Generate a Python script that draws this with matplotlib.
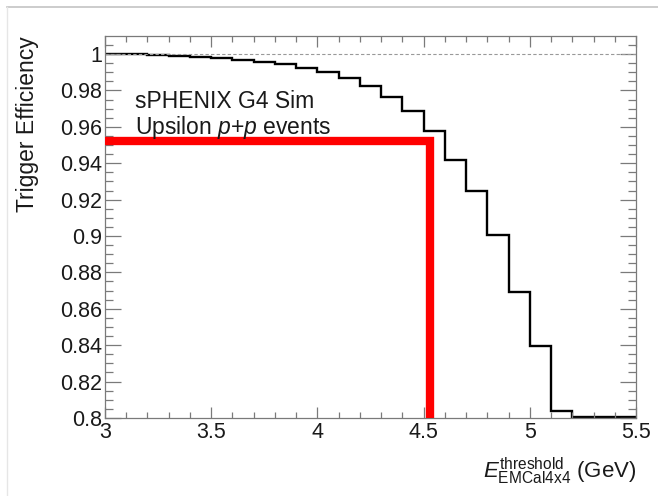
import matplotlib
matplotlib.use("Agg")
import matplotlib.pyplot as plt
from matplotlib.lines import Line2D
from matplotlib.ticker import MultipleLocator

plt.rcParams['font.family'] = ['Liberation Sans', 'DejaVu Sans']
plt.rcParams['mathtext.fontset'] = 'custom'
plt.rcParams['mathtext.rm'] = 'Liberation Sans'
plt.rcParams['mathtext.it'] = 'Liberation Sans:italic'
plt.rcParams['mathtext.bf'] = 'Liberation Sans:bold'

# Trigger efficiency vs. EMCal 4x4 threshold (bins of 0.1 GeV)
bin_edges = [3.0, 3.1, 3.2, 3.3, 3.4, 3.5, 3.6, 3.7, 3.8, 3.9, 4.0, 4.1, 4.2,
             4.3, 4.4, 4.5, 4.6, 4.7, 4.8, 4.9, 5.0, 5.1, 5.2, 5.3, 5.4, 5.5]
efficiency = [0.9999, 0.9998, 0.9995, 0.9990, 0.9985, 0.9978, 0.9968, 0.9955,
              0.9943, 0.9923, 0.9899, 0.9866, 0.9824, 0.9762, 0.9688, 0.9575,
              0.9415, 0.9245, 0.9008, 0.8691, 0.8398, 0.8040, 0.8003, 0.8003,
              0.8003]

# Chosen operating point
threshold_cut = 4.53
efficiency_at_cut = 0.952

fig = plt.figure(figsize=(6.58, 4.96), dpi=100)
ax = fig.add_axes([0.1596, 0.1573, 0.807, 0.7701])

ax.stairs(efficiency, bin_edges, color='black', linewidth=1.7, baseline=None)
ax.axhline(1.0, color='#999999', linewidth=0.8, linestyle=(0, (3, 2)))
ax.plot([bin_edges[0], threshold_cut, threshold_cut],
        [efficiency_at_cut, efficiency_at_cut, 0.8],
        color='#ff0000', linewidth=6, solid_joinstyle='miter',
        solid_capstyle='butt', zorder=3)

ax.set_xlim(3.0, 5.5)
ax.set_ylim(0.8, 1.0099)

ax.xaxis.set_major_locator(MultipleLocator(0.5))
ax.xaxis.set_minor_locator(MultipleLocator(0.1))
ax.yaxis.set_major_locator(MultipleLocator(0.02))
ax.yaxis.set_minor_locator(MultipleLocator(0.005))

def fmt(v, _):
    s = f"{v:.2f}".rstrip('0').rstrip('.')
    return s
ax.xaxis.set_major_formatter(plt.FuncFormatter(fmt))
ax.yaxis.set_major_formatter(plt.FuncFormatter(fmt))

frame_color = '#7a7a7a'
for sp in ax.spines.values():
    sp.set_color(frame_color)
    sp.set_linewidth(0.9)

ax.tick_params(axis='both', which='both', direction='in', colors=frame_color,
               labelcolor='#1a1a1a', width=0.9, top=True, right=True,
               labelsize=15.5)
ax.tick_params(axis='y', which='major', length=11.5)
ax.tick_params(axis='y', which='minor', length=5.8)
ax.tick_params(axis='x', which='major', length=7.9)
ax.tick_params(axis='x', which='minor', length=4.0)
ax.tick_params(axis='x', which='major', pad=3)
ax.tick_params(axis='y', which='major', pad=2)

ax.set_ylabel('Trigger Efficiency', fontsize=16.5, color='#1a1a1a', loc='top')
ax.yaxis.set_label_coords(-0.124, 1.0)
ax.set_xlabel(r'$E^{\mathrm{threshold}}_{\mathrm{EMCal4x4}}$ (GeV)',
              fontsize=16, color='#1a1a1a', loc='right', labelpad=9)

ax.text(3.14, 0.9703, 'sPHENIX G4 Sim', fontsize=16.5, color='#1a1a1a',
        va='baseline', ha='left')
ax.text(3.14, 0.9560, r'Upsilon $p$+$p$ events', fontsize=16.5,
        color='#1a1a1a', va='baseline', ha='left')

# light border along the top and left edges of the canvas
fig.add_artist(Line2D([7 / 658, 1.0], [1 - 7 / 496, 1 - 7 / 496],
                      transform=fig.transFigure, color='#c4c4c4', linewidth=1.2))
fig.add_artist(Line2D([7 / 658, 7 / 658], [0.0, 1 - 7 / 496],
                      transform=fig.transFigure, color='#e6e6e6', linewidth=1.0))

fig.savefig('out.png', dpi=100, facecolor='white')
